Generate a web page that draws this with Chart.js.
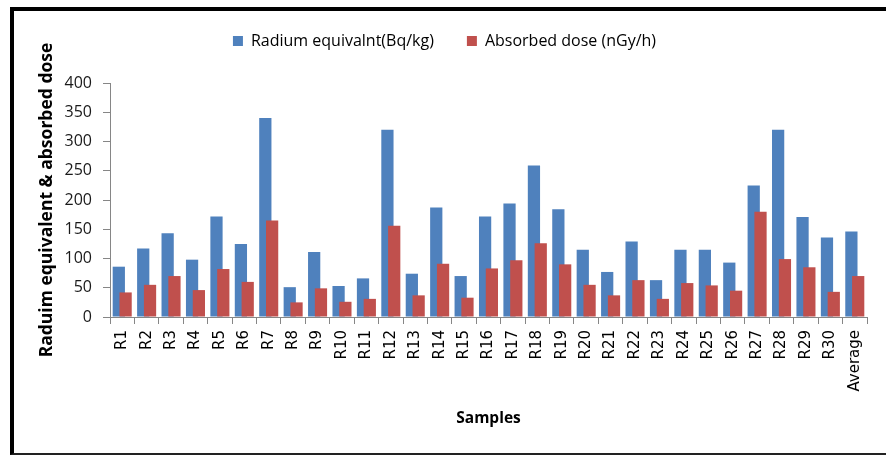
<!DOCTYPE html>
<html>
<head>
<meta charset="utf-8">
<script src="https://cdn.jsdelivr.net/npm/chart.js@4.4.1/dist/chart.umd.min.js"></script>
<style>
  html, body { margin: 0; padding: 0; background: #fff; overflow: hidden; }
  #wrap { position: absolute; left: 0; top: 0; width: 886px; height: 456px; }
  #frame {
    position: absolute; left: 10px; top: 7px; width: 900px; height: 442px;
    border-left: 4px solid #000; border-top: 4px solid #000; border-bottom: 2px solid #222;
    pointer-events: none;
  }
</style>
</head>
<body>
<div id="wrap"><canvas id="doseChart"></canvas></div>
<div id="frame"></div>
<script>
const samples = ['R1', 'R2', 'R3', 'R4', 'R5', 'R6', 'R7', 'R8', 'R9', 'R10',
  'R11', 'R12', 'R13', 'R14', 'R15', 'R16', 'R17', 'R18', 'R19', 'R20',
  'R21', 'R22', 'R23', 'R24', 'R25', 'R26', 'R27', 'R28', 'R29', 'R30', 'Average'];

const radiumEq = [86, 117, 143, 98, 172, 125, 340, 51, 111, 53,
  66, 320, 74, 187, 70, 172, 194, 259, 184, 115,
  77, 129, 63, 115, 115, 93, 225, 320, 171, 136, 146];

const absorbedDose = [42, 55, 70, 46, 82, 60, 165, 25, 49, 26,
  31, 156, 37, 91, 33, 83, 97, 126, 90, 55,
  37, 63, 31, 58, 54, 45, 180, 99, 85, 43, 70];

const yTicks = [0, 50, 100, 150, 200, 250, 300, 350, 400];

Chart.defaults.font.family = '"Open Sans", sans-serif';
Chart.defaults.color = '#1a1a1a';

const axisGray = '#868686';

// legend sits high, plot starts lower down
const legendSpace = {
  id: 'legendSpace',
  beforeInit(chart) {
    const fit = chart.legend.fit;
    chart.legend.fit = function () { fit.call(this); this.height = 83; };
  }
};

// red bars overlap the blue ones, so blue goes down first
const redOnTop = {
  id: 'redOnTop',
  beforeDatasetsDraw(chart) {
    chart.getDatasetMeta(0).controller.draw();
  },
  beforeDatasetDraw(chart, args) {
    if (args.index === 0) return false;
  }
};

new Chart(document.getElementById('doseChart'), {
  type: 'bar',
  data: {
    labels: samples,
    datasets: [
      { label: 'Radium equivalnt(Bq/kg)', data: radiumEq, backgroundColor: '#4F81BD',
        categoryPercentage: 0.557, barPercentage: 1.8 },
      { label: 'Absorbed dose (nGy/h)', data: absorbedDose, backgroundColor: '#C0504D',
        categoryPercentage: 0.557, barPercentage: 1.8 },
    ]
  },
  options: {
    responsive: true,
    maintainAspectRatio: false,
    animation: false,
    layout: { padding: { left: 22, right: 19, top: 0, bottom: 0 } },
    plugins: {
      tooltip: { enabled: false },
      legend: {
        position: 'top',
        labels: { boxWidth: 10, boxHeight: 10, padding: 33, color: '#000', font: { size: 16 } }
      }
    },
    scales: {
      x: {
        grid: { offset: true, drawOnChartArea: false, tickLength: 7, color: axisGray },
        border: { color: axisGray },
        ticks: {
          autoSkip: false, minRotation: 90, maxRotation: 90, padding: 6, color: '#000',
          font: { family: '"DejaVu Sans", sans-serif', size: 15 }
        },
        title: {
          display: true, text: 'Samples', color: '#000',
          font: { size: 15.5, weight: 'bold' }, padding: { top: 0, bottom: 28 }
        },
        afterFit: s => { s.height = 139; }
      },
      y: {
        min: 0,
        max: 400,
        afterBuildTicks: s => { s.ticks = yTicks.map(v => ({ value: v })); },
        grid: { drawOnChartArea: false, tickLength: 7, color: axisGray },
        border: { color: axisGray },
        ticks: { padding: 11, color: '#1a1a1a', font: { size: 16 } },
        title: {
          display: true, text: 'Raduim equivalent & absorbed dose', color: '#000',
          font: { size: 17.5, weight: 'bold' }, padding: { top: 15, bottom: 0 }
        },
        afterFit: s => { s.width = 88; }
      }
    }
  },
  plugins: [legendSpace, redOnTop]
});
</script>
</body>
</html>
